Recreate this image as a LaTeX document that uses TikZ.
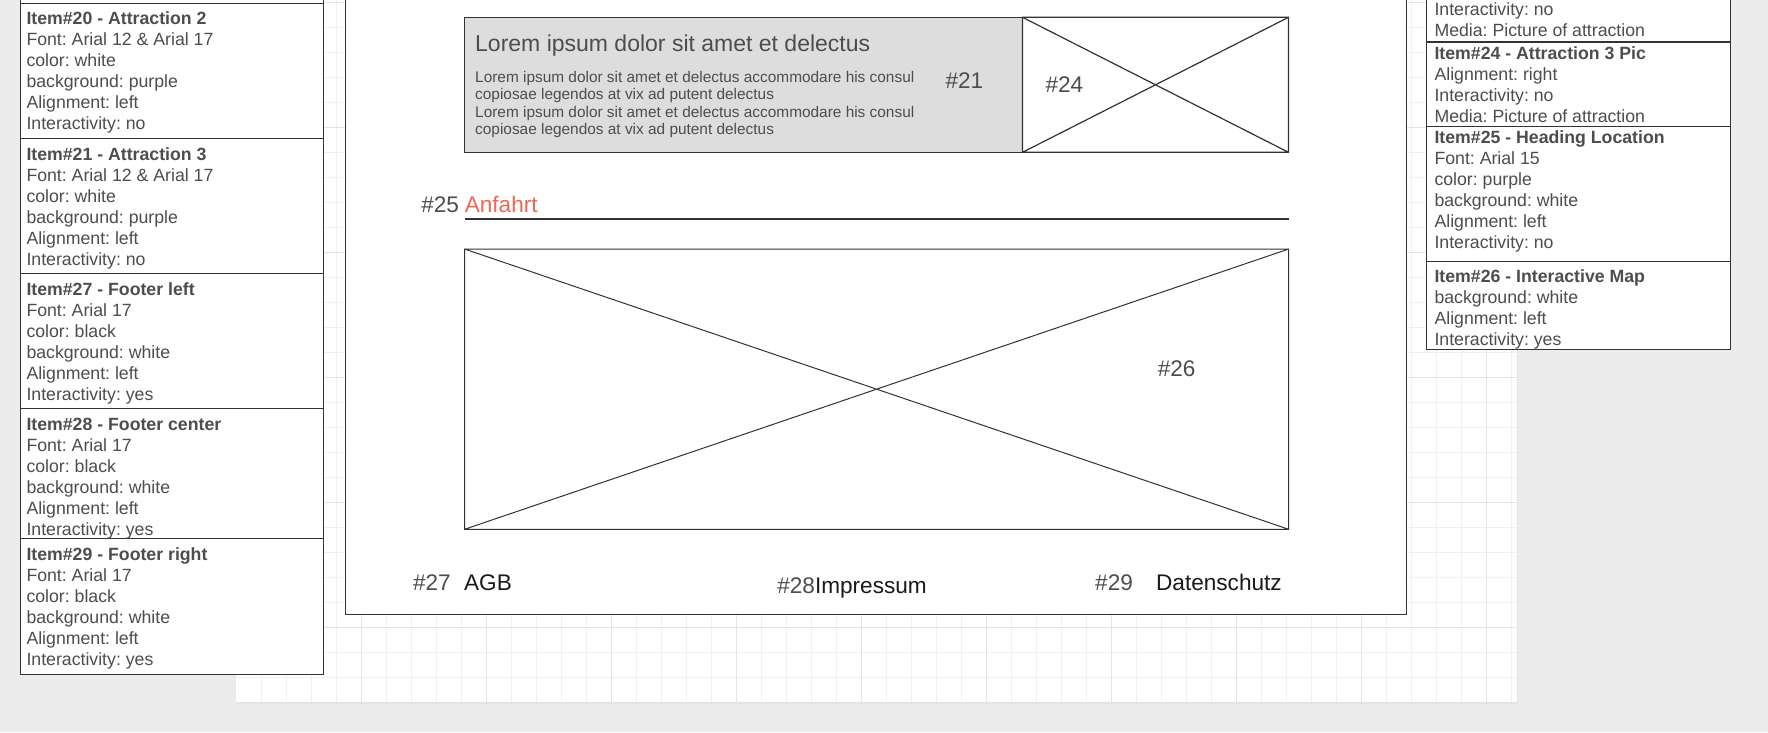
\documentclass[tikz,border=0pt]{standalone}
\usepackage{fontspec}
\setmainfont{Liberation Sans}
\usepackage{tikz}
\definecolor{bggray}{RGB}{236,236,236}
\definecolor{gridminor}{RGB}{241,241,241}
\definecolor{gridmajor}{RGB}{228,228,228}
\definecolor{txtgray}{RGB}{77,77,77}
\definecolor{txtdark}{RGB}{26,26,26}
\definecolor{linegray}{RGB}{51,51,51}
\definecolor{boxgray}{RGB}{221,221,221}
\definecolor{salmon}{RGB}{240,102,82}
\newcommand{\specstrut}[1]{\rule{0pt}{#1}}
\frenchspacing

\begin{document}
\begin{tikzpicture}[x=1pt,y=-1pt,line width=1pt,
  spec/.style={anchor=north west,align=left,inner sep=0pt,text=txtgray,font=\fontsize{17.7}{21}\selectfont},
  lbl/.style={anchor=base west,inner sep=0pt,text=txtgray,font=\fontsize{22.6}{26}\selectfont}]
\useasboundingbox (0,0) rectangle (1768,732);
\fill[bggray] (0,0) rectangle (1768,732);
\fill[black!11] (237,0) rectangle (1518,704);
\fill[white] (235.7,0) rectangle (1516.5,702.3);
\foreach \i in {1,...,51} \draw[gridminor] ({236.2+25*\i},0) -- ++(0,702.3);
\foreach \j in {0,...,27} \draw[gridminor] (235.7,{2.3+25*\j}) -- ++(1280.8,0);
\foreach \i in {1,...,10} \draw[gridmajor] ({236.2+125*\i},0) -- ++(0,702.3);
\foreach \j in {0,...,5} \draw[gridmajor] (235.7,{2.3+125*\j}) -- ++(1280.8,0);

\draw[linegray,fill=white] (345.3,-2) rectangle (1406.7,614.5);
\draw[linegray,fill=boxgray] (464.5,17.3) rectangle (1022.5,152.3);
\draw[linegray,fill=white,line width=1.2pt] (1022.5,17.3) rectangle (1288.5,152.3) (1022.5,17.3) -- (1288.5,152.3) (1022.5,152.3) -- (1288.5,17.3);
\node[lbl,font=\fontsize{23}{27}\selectfont] (head) at (474.7,51.7) {Lorem ipsum dolor sit amet et delectus};
\node[spec,font=\fontsize{15.4}{17.5}\selectfont] (body) at (474.7,67.7) {\specstrut{14pt}Lorem ipsum dolor sit amet et delectus accommodare his consul\\copiosae legendos at vix ad putent delectus\\Lorem ipsum dolor sit amet et delectus accommodare his consul\\copiosae legendos at vix ad putent delectus};
\node[lbl] (n21) at (945,88) {\#21};
\node[lbl] (n24) at (1045,92.7) {\#24};
\node[lbl,anchor=base east] (n25) at (459.5,212.3) {\#25};
\node[lbl,text=salmon] (anfahrt) at (464.3,212.3) {Anfahrt};
\draw[linegray,line width=2pt] (464.5,219) -- (1288.5,219);
\draw[linegray] (464.5,249) rectangle (1288.7,529.3) (464.5,249) -- (1288.7,529.3) (464.5,529.3) -- (1288.7,249);
\node[lbl] (n26) at (1157.3,376) {\#26};
\node[lbl] (n27) at (412.5,590) {\#27};
\node[lbl,text=txtdark] (agb) at (463.6,590) {AGB};
\node[lbl] (n28) at (776.8,593) {\#28\textcolor{txtdark}{Impressum}};
\node[lbl] (n29) at (1094.7,590) {\#29};
\node[lbl,text=txtdark] (daten) at (1155.6,590) {Datenschutz};

\draw[linegray,fill=white] (20,-2) rectangle (323.3,674.3);
\foreach \y in {3.3,138.3,273.3,408.3,538.3} \draw[linegray] (20,\y) -- (323.3,\y);
\node[spec] (item20) at (26,7.3) {\specstrut{17pt}\textbf{Item\#20 - Attraction 2}\\Font: Arial 12 \& Arial 17\\color: white\\background: purple\\Alignment: left\\Interactivity: no};
\node[spec] (item21) at (26,142.6) {\specstrut{17pt}\textbf{Item\#21 - Attraction 3}\\Font: Arial 12 \& Arial 17\\color: white\\background: purple\\Alignment: left\\Interactivity: no};
\node[spec] (item27) at (26,277.6) {\specstrut{17pt}\textbf{Item\#27 - Footer left}\\Font: Arial 17\\color: black\\background: white\\Alignment: left\\Interactivity: yes};
\node[spec] (item28) at (26,412.6) {\specstrut{17pt}\textbf{Item\#28 - Footer center}\\Font: Arial 17\\color: black\\background: white\\Alignment: left\\Interactivity: yes};
\node[spec] (item29) at (26,542.6) {\specstrut{17pt}\textbf{Item\#29 - Footer right}\\Font: Arial 17\\color: black\\background: white\\Alignment: left\\Interactivity: yes};

\draw[linegray,fill=white] (1426.7,-2) rectangle (1730,349.3);
\draw[linegray,line width=1.6pt] (1426.7,41.7) -- (1730,41.7);
\foreach \y in {126.7,261.7} \draw[linegray] (1426.7,\y) -- (1730,\y);
\node[spec] (item23) at (1434,-2) {\specstrut{17pt}Interactivity: no\\Media: Picture of attraction};
\node[spec] (item24) at (1434,42.3) {\specstrut{17pt}\textbf{Item\#24 - Attraction 3 Pic}\\Alignment: right\\Interactivity: no\\Media: Picture of attraction};
\node[spec] (item25) at (1434,125.7) {\specstrut{17pt}\textbf{Item\#25 - Heading Location}\\Font: Arial 15\\color: purple\\background: white\\Alignment: left\\Interactivity: no};
\node[spec] (item26) at (1434,265) {\specstrut{17pt}\textbf{Item\#26 - Interactive Map}\\background: white\\Alignment: left\\Interactivity: yes};
\end{tikzpicture}
\end{document}
